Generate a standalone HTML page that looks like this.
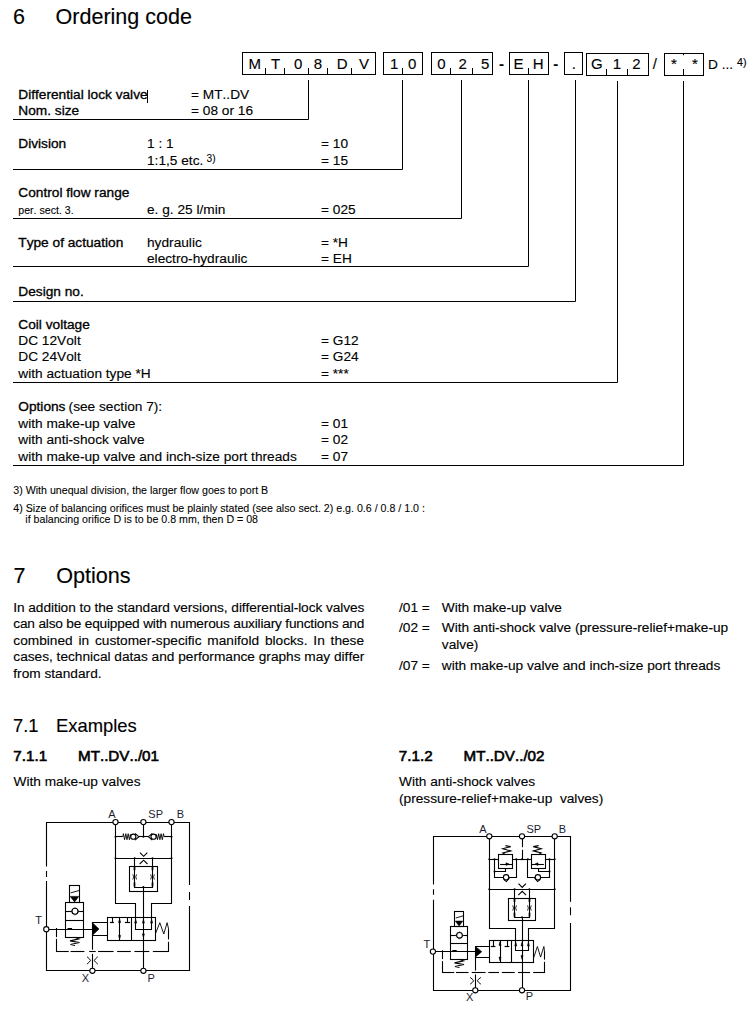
<!DOCTYPE html>
<html><head><meta charset="utf-8"><title>Ordering code</title>
<style>
html,body{margin:0;padding:0;background:#fff;}
body{width:756px;height:1016px;position:relative;overflow:hidden;font-family:"Liberation Sans",sans-serif;color:#000;}
.t{position:absolute;white-space:nowrap;font-kerning:none;-webkit-text-stroke:0.13px #000;}
svg{position:absolute;left:0;top:0;}
</style></head><body>
<div class="t" style="left:13.0px;top:5px;font-size:21.5px;line-height:24px;">6</div>
<div class="t" style="left:55.6px;top:5px;font-size:21.5px;line-height:24px;">Ordering code</div>
<div class="t" style="left:248.5px;top:55px;font-size:15px;line-height:17px;">M</div>
<div class="t" style="left:271.1px;top:55px;font-size:15px;line-height:17px;">T</div>
<div class="t" style="left:294.0px;top:55px;font-size:15px;line-height:17px;">0</div>
<div class="t" style="left:313.7px;top:55px;font-size:15px;line-height:17px;">8</div>
<div class="t" style="left:336.7px;top:55px;font-size:15px;line-height:17px;">D</div>
<div class="t" style="left:358.9px;top:55px;font-size:15px;line-height:17px;">V</div>
<div class="t" style="left:390.1px;top:55px;font-size:15px;line-height:17px;">1</div>
<div class="t" style="left:408.0px;top:55px;font-size:15px;line-height:17px;">0</div>
<div class="t" style="left:437.2px;top:55px;font-size:15px;line-height:17px;">0</div>
<div class="t" style="left:458.6px;top:55px;font-size:15px;line-height:17px;">2</div>
<div class="t" style="left:481.0px;top:55px;font-size:15px;line-height:17px;">5</div>
<div class="t" style="left:513.6px;top:55px;font-size:15px;line-height:17px;">E</div>
<div class="t" style="left:532.7px;top:55px;font-size:15px;line-height:17px;">H</div>
<div class="t" style="left:571.8px;top:55px;font-size:15px;line-height:17px;">.</div>
<div class="t" style="left:591.1px;top:55px;font-size:15px;line-height:17px;">G</div>
<div class="t" style="left:612.8px;top:55px;font-size:15px;line-height:17px;">1</div>
<div class="t" style="left:632.3px;top:55px;font-size:15px;line-height:17px;">2</div>
<div class="t" style="left:652.8px;top:55px;font-size:15px;line-height:17px;">/</div>
<div class="t" style="left:499.0px;top:55px;font-size:15px;line-height:17px;font-weight:bold">-</div>
<div class="t" style="left:553.3px;top:55px;font-size:15px;line-height:17px;font-weight:bold">-</div>
<div class="t" style="left:671.1px;top:55px;font-size:15px;line-height:17px;">*</div>
<div class="t" style="left:692.0px;top:55px;font-size:15px;line-height:17px;">*</div>
<div class="t" style="left:708.0px;top:57px;font-size:13.7px;line-height:15px;">D ...</div>
<div class="t" style="left:737.0px;top:56px;font-size:10.65px;line-height:12px;">4)</div>
<div class="t" style="left:18.3px;top:87px;font-size:13.7px;line-height:15px;-webkit-text-stroke-width:0.33px">Differential lock valve</div>
<div class="t" style="left:191.0px;top:87px;font-size:13.7px;line-height:15px;">= MT..DV</div>
<div class="t" style="left:18.3px;top:103px;font-size:13.7px;line-height:15px;-webkit-text-stroke-width:0.33px">Nom. size</div>
<div class="t" style="left:191.0px;top:103px;font-size:13.7px;line-height:15px;">= 08 or 16</div>
<div class="t" style="left:18.3px;top:136px;font-size:13.7px;line-height:15px;-webkit-text-stroke-width:0.33px">Division</div>
<div class="t" style="left:147.0px;top:136px;font-size:13.7px;line-height:15px;">1 : 1</div>
<div class="t" style="left:321.0px;top:136px;font-size:13.7px;line-height:15px;">= 10</div>
<div class="t" style="left:147.0px;top:153px;font-size:13.7px;line-height:15px;">1:1,5 etc.</div>
<div class="t" style="left:206.6px;top:153px;font-size:10.2px;line-height:11px;-webkit-text-stroke-width:0.08px">3)</div>
<div class="t" style="left:321.0px;top:153px;font-size:13.7px;line-height:15px;">= 15</div>
<div class="t" style="left:18.3px;top:185px;font-size:13.7px;line-height:15px;-webkit-text-stroke-width:0.33px">Control flow range</div>
<div class="t" style="left:18.3px;top:204px;font-size:10.6px;line-height:12px;-webkit-text-stroke-width:0.1px">per. sect. 3.</div>
<div class="t" style="left:147.0px;top:202px;font-size:13.7px;line-height:15px;">e. g. 25 l/min</div>
<div class="t" style="left:321.0px;top:202px;font-size:13.7px;line-height:15px;">= 025</div>
<div class="t" style="left:18.3px;top:235px;font-size:13.7px;line-height:15px;-webkit-text-stroke-width:0.33px">Type of actuation</div>
<div class="t" style="left:147.0px;top:235px;font-size:13.7px;line-height:15px;">hydraulic</div>
<div class="t" style="left:321.0px;top:235px;font-size:13.7px;line-height:15px;">= *H</div>
<div class="t" style="left:147.0px;top:251px;font-size:13.7px;line-height:15px;">electro-hydraulic</div>
<div class="t" style="left:321.0px;top:251px;font-size:13.7px;line-height:15px;">= EH</div>
<div class="t" style="left:18.3px;top:284px;font-size:13.7px;line-height:15px;-webkit-text-stroke-width:0.33px">Design no.</div>
<div class="t" style="left:18.3px;top:317px;font-size:13.7px;line-height:15px;-webkit-text-stroke-width:0.33px">Coil voltage</div>
<div class="t" style="left:18.3px;top:333px;font-size:13.7px;line-height:15px;">DC 12Volt</div>
<div class="t" style="left:321.0px;top:333px;font-size:13.7px;line-height:15px;">= G12</div>
<div class="t" style="left:18.3px;top:349px;font-size:13.7px;line-height:15px;">DC 24Volt</div>
<div class="t" style="left:321.0px;top:349px;font-size:13.7px;line-height:15px;">= G24</div>
<div class="t" style="left:18.3px;top:366px;font-size:13.7px;line-height:15px;">with actuation type *H</div>
<div class="t" style="left:321.0px;top:366px;font-size:13.7px;line-height:15px;">= ***</div>
<div class="t" style="left:18.3px;top:399px;font-size:13.7px;line-height:15px;-webkit-text-stroke-width:0.33px">Options</div>
<div class="t" style="left:68.6px;top:399px;font-size:13.7px;line-height:15px;">(see section 7):</div>
<div class="t" style="left:18.3px;top:416px;font-size:13.7px;line-height:15px;">with make-up valve</div>
<div class="t" style="left:321.0px;top:416px;font-size:13.7px;line-height:15px;">= 01</div>
<div class="t" style="left:18.3px;top:432px;font-size:13.7px;line-height:15px;">with anti-shock valve</div>
<div class="t" style="left:321.0px;top:432px;font-size:13.7px;line-height:15px;">= 02</div>
<div class="t" style="left:18.3px;top:449px;font-size:13.7px;line-height:15px;">with make-up valve and inch-size port threads</div>
<div class="t" style="left:321.0px;top:449px;font-size:13.7px;line-height:15px;">= 07</div>
<div class="t" style="left:13.3px;top:484px;font-size:10.65px;line-height:12px;-webkit-text-stroke-width:0.08px">3) With unequal division, the larger flow goes to port B</div>
<div class="t" style="left:13.3px;top:502px;font-size:10.65px;line-height:12px;-webkit-text-stroke-width:0.08px">4) Size of balancing orifices must be plainly stated (see also sect. 2) e.g. 0.6 / 0.8 / 1.0 :</div>
<div class="t" style="left:25.3px;top:513px;font-size:10.65px;line-height:12px;-webkit-text-stroke-width:0.08px">if balancing orifice D is to be 0.8 mm, then D = 08</div>
<div class="t" style="left:13.5px;top:563px;font-size:21.6px;line-height:25px;">7</div>
<div class="t" style="left:56.2px;top:563px;font-size:21.6px;line-height:25px;">Options</div>
<div class="t" style="left:13.0px;top:715px;font-size:18.4px;line-height:21px;">7.1</div>
<div class="t" style="left:56.0px;top:715px;font-size:18.4px;line-height:21px;">Examples</div>
<div class="t" style="left:13.3px;top:747px;font-size:15.2px;line-height:17px;-webkit-text-stroke-width:0.62px">7.1.1</div>
<div class="t" style="left:78.0px;top:747px;font-size:15.2px;line-height:17px;-webkit-text-stroke-width:0.62px">MT..DV../01</div>
<div class="t" style="left:13.5px;top:774px;font-size:13.7px;line-height:15px;">With make-up valves</div>
<div class="t" style="left:398.8px;top:747px;font-size:15.2px;line-height:17px;-webkit-text-stroke-width:0.62px">7.1.2</div>
<div class="t" style="left:463.5px;top:747px;font-size:15.2px;line-height:17px;-webkit-text-stroke-width:0.62px">MT..DV../02</div>
<div class="t" style="left:399.0px;top:774px;font-size:13.7px;line-height:15px;">With anti-shock valves</div>
<div class="t" style="left:399.0px;top:791px;font-size:13.7px;line-height:15px;">(pressure-relief+make-up&nbsp; valves)</div>
<div class="t" style="left:399.0px;top:600px;font-size:13.7px;line-height:15px;">/01 =</div>
<div class="t" style="left:441.8px;top:600px;font-size:13.7px;line-height:15px;">With make-up valve</div>
<div class="t" style="left:399.0px;top:620px;font-size:13.7px;line-height:15px;">/02 =</div>
<div class="t" style="left:441.8px;top:620px;font-size:13.7px;line-height:15px;">With anti-shock valve (pressure-relief+make-up</div>
<div class="t" style="left:441.8px;top:637px;font-size:13.7px;line-height:15px;">valve)</div>
<div class="t" style="left:399.0px;top:658px;font-size:13.7px;line-height:15px;">/07 =</div>
<div class="t" style="left:441.8px;top:658px;font-size:13.7px;line-height:15px;">with make-up valve and inch-size port threads</div>
<div class="t" style="left:13.3px;top:600px;font-size:13.7px;line-height:15px;letter-spacing:-0.069px">In addition to the standard versions, differential-lock valves</div>
<div class="t" style="left:13.3px;top:616px;font-size:13.7px;line-height:15px;letter-spacing:-0.195px">can also be equipped with numerous auxiliary functions and</div>
<div class="t" style="left:13.3px;top:633px;font-size:13.7px;line-height:15px;word-spacing:2.04px">combined in customer-specific manifold blocks. In these</div>
<div class="t" style="left:13.3px;top:649px;font-size:13.7px;line-height:15px;letter-spacing:-0.008px">cases, technical datas and performance graphs may differ</div>
<div class="t" style="left:13.3px;top:666px;font-size:13.7px;line-height:15px;">from standard.</div>
<svg width="756" height="1016" viewBox="0 0 756 1016" font-family="Liberation Sans, sans-serif">
<g fill="none" stroke="#000" stroke-width="1">
<rect x="242.5" y="52.5" width="133.0" height="22.0"/>
<path d="M265.5 68V74.5"/>
<path d="M284.5 68V74.5"/>
<path d="M308.5 68V74.5"/>
<path d="M327.5 68V74.5"/>
<path d="M351.5 68V74.5"/>
<rect x="383.5" y="52.5" width="39.0" height="22.0"/>
<path d="M402.5 68V74.5"/>
<rect x="431.5" y="52.5" width="61.0" height="22.0"/>
<path d="M450.5 68V74.5"/>
<path d="M472.5 68V74.5"/>
<rect x="509.5" y="52.5" width="39.0" height="22.0"/>
<path d="M528.5 68V74.5"/>
<rect x="564.5" y="52.5" width="18.0" height="22.0"/>
<rect x="586.5" y="53.5" width="62.0" height="22.0"/>
<path d="M606.5 69V75.5"/>
<path d="M627.5 69V75.5"/>
<rect x="664.5" y="53.5" width="39.0" height="22.0"/>
<path d="M683.5 69V75.5"/>
<path d="M308.5 80V119.5H13"/>
<path d="M402.5 80V169.5H13"/>
<path d="M461.5 80V218.5H13"/>
<path d="M528.5 80V266.5H13"/>
<path d="M575.5 80V301.5H13"/>
<path d="M617.5 81V382.5H13"/>
<path d="M683.5 81V465.5H13"/>
<path d="M683.5 53.5V55.2"/>
<path d="M147.5 90V103"/>
</g>
<g fill="none" stroke="#000" stroke-width="1.1" stroke-linejoin="miter">
<path d="M46.5 866.4 L46.5 822.5 L189.5 822.5 L189.5 885.0"/>
<path d="M46.5 871.0 L46.5 877.0"/>
<path d="M46.5 881.0 L46.5 970.5 L189.5 970.5 L189.5 906.0"/>
<path d="M189.5 892.0 L189.5 900.0"/>
<path d="M115.5 822.1 L115.5 903.5 L135.5 903.5 L135.5 929.5 L151.5 929.5 L151.5 903.5 L171.5 903.5 L171.5 822.1"/>
<path d="M143.5 822.1 L143.5 836.7"/>
<path d="M115.5 836.5 L122.8 836.5"/>
<path d="M122.8 836.7 L123.4 833.7 L124.6 839.7 L125.8 833.7 L127.0 839.7 L128.2 833.7 L129.4 839.7 L130.4 834.5 L130.8 836.7" stroke-width="0.9"/>
<circle cx="133.3" cy="836.7" r="2.6" fill="#fff"/>
<path d="M135.0 833.3 L138.9 836.7 L135.0 840.1"/>
<path d="M138.9 836.5 L148.4 836.5"/>
<path d="M152.3 833.3 L148.4 836.7 L152.3 840.1"/>
<circle cx="153.6" cy="836.7" r="2.6" fill="#fff"/>
<path d="M156.1 836.7 L156.5 834.5 L157.5 839.7 L158.7 833.7 L159.9 839.7 L161.1 833.7 L162.3 839.7 L163.5 833.7 L164.1 836.7" stroke-width="0.9"/>
<path d="M164.1 836.5 L171.5 836.5"/>
<path d="M115.5 858.5 L171.5 858.5"/>
<path d="M139.9 852.6 L143.6 856.3 L147.3 852.6" stroke-width="1.1"/>
<path d="M139.7 864.0 L143.6 860.2 L147.5 864.0" stroke-width="1.1"/>
<path d="M134.5 858.2 L134.5 887.5 L152.5 887.5 L152.5 858.2"/>
<rect x="129.5" y="866.5" width="28.0" height="25.0"/>
<path d="M132.8 874.3 Q134.5 876.9 132.8 879.5" stroke-width="0.8"/>
<path d="M136.6 874.3 Q134.9 876.9 136.6 879.5" stroke-width="0.8"/>
<path d="M134.5 866.9 L134.5 870.2" stroke-width="1.7"/>
<path d="M134.5 882.5 L134.5 886.5" stroke-width="1.7"/>
<path d="M150.6 874.3 Q152.3 876.9 150.6 879.5" stroke-width="0.8"/>
<path d="M154.4 874.3 Q152.7 876.9 154.4 879.5" stroke-width="0.8"/>
<path d="M152.5 866.9 L152.5 870.2" stroke-width="1.7"/>
<path d="M152.5 882.5 L152.5 886.5" stroke-width="1.7"/>
<circle cx="115.5" cy="836.7" r="1.0" fill="#000" stroke="none"/>
<circle cx="171.5" cy="836.7" r="1.0" fill="#000" stroke="none"/>
<circle cx="115.5" cy="858.2" r="1.0" fill="#000" stroke="none"/>
<circle cx="171.5" cy="858.2" r="1.0" fill="#000" stroke="none"/>
<circle cx="134.7" cy="858.2" r="1.0" fill="#000" stroke="none"/>
<circle cx="152.5" cy="858.2" r="1.0" fill="#000" stroke="none"/>
<circle cx="143.4" cy="836.7" r="1.0" fill="#000" stroke="none"/>
<circle cx="143.4" cy="887.0" r="1.0" fill="#000" stroke="none"/>
<path d="M143.5 887.0 L143.5 970.4"/>
<rect x="107.5" y="917.5" width="48.0" height="23.0"/>
<path d="M131.5 917.5 L131.5 940.5"/>
<path d="M112.5 917.5 L112.5 922.1"/>
<path d="M109.9 922.5 L113.9 922.5" stroke-width="1.2"/>
<path d="M127.5 917.5 L127.5 922.1"/>
<path d="M124.9 922.5 L130.2 922.5" stroke-width="1.2"/>
<path d="M119.5 917.5 L119.5 940.5"/>
<polygon points="118.6,922.6 120.6,922.6 119.6,919.0" fill="#000" stroke="#000" stroke-width="0.6"/>
<polygon points="118.6,935.4 120.6,935.4 119.6,939.0" fill="#000" stroke="#000" stroke-width="0.6"/>
<polygon points="134.7,923.1 136.7,923.1 135.7,919.5" fill="#000" stroke="#000" stroke-width="0.6"/>
<polygon points="142.4,923.1 144.4,923.1 143.4,919.5" fill="#000" stroke="#000" stroke-width="0.6"/>
<polygon points="150.6,923.1 152.6,923.1 151.6,919.5" fill="#000" stroke="#000" stroke-width="0.6"/>
<polygon points="142.4,933.9 144.4,933.9 143.4,937.5" fill="#000" stroke="#000" stroke-width="0.6"/>
<path d="M155.8 932.9 L159.8 922.7 L163.8 934.0 L167.1 922.7 L168.7 929.3" stroke-width="0.9"/>
<path d="M56.5 951.5 L68.7 951.5"/>
<path d="M70.6 951.5 L84.4 951.5"/>
<path d="M89.2 951.5 L95.7 951.5"/>
<path d="M98.1 951.5 L113.6 951.5"/>
<path d="M117.1 951.5 L130.8 951.5"/>
<path d="M134.4 951.5 L149.3 951.5"/>
<path d="M152.9 951.5 L169.0 951.5"/>
<path d="M168.5 951.5 L168.5 941.8"/>
<path d="M168.5 939.4 L168.5 929.3"/>
<path d="M56.5 928.0 L56.5 937.2"/>
<path d="M56.5 938.9 L56.5 952.0"/>
<polygon points="92.7,922.9 92.7,935.1 99.0,929.0" fill="#000" stroke="#000" stroke-width="0.6"/>
<path d="M107.5 922.5 L92.5 922.5 L92.5 935.5 L107.5 935.5"/>
<path d="M92.5 935.6 L92.5 949.7"/>
<path d="M92.5 953.9 L92.5 970.4"/>
<path d="M87.0 956.7 Q89.9 959.0 90.5 960.4 Q89.9 961.8 87.0 964.1" stroke-width="0.95"/>
<path d="M97.8 956.7 Q94.9 959.0 94.3 960.4 Q94.9 961.8 97.8 964.1" stroke-width="0.95"/>
<path d="M49.0 929.5 L92.5 929.5"/>
<rect x="69.5" y="885.5" width="10.0" height="17.0"/>
<path d="M70.6 892.9 L79.1 890.5" stroke-width="0.9"/>
<polygon points="70.2,896.4 78.8,896.4 74.6,901.9" fill="#000" stroke="#000" stroke-width="0.6"/>
<rect x="65.5" y="902.5" width="18.0" height="35.0"/>
<path d="M65.5 920.5 L83.5 920.5"/>
<path d="M65.5 911.5 L83.5 911.5"/>
<path d="M70.9 911.3 L75.0 907.2 L79.1 911.3 L75.0 915.4 Z" stroke-width="0.6" stroke="#555"/>
<circle cx="75.0" cy="911.3" r="3.0" fill="#fff"/>
<path d="M67.5 928.5 L72.1 928.5" stroke-width="1.0"/>
<path d="M74.5 937.3 L79.0 938.9 L70.0 940.9 L79.5 942.5 L70.5 944.5 L75.0 945.5"/>
<circle cx="115.5" cy="822.1" r="2.6" fill="#fff"/>
<circle cx="143.4" cy="822.1" r="2.6" fill="#fff"/>
<circle cx="171.5" cy="822.1" r="2.6" fill="#fff"/>
<circle cx="46.3" cy="929.2" r="2.6" fill="#fff"/>
<circle cx="92.4" cy="970.8" r="2.6" fill="#fff"/>
<circle cx="143.4" cy="970.8" r="2.6" fill="#fff"/>
</g>
<text x="108.2" y="817.6" font-size="11" fill="#1c1c30" stroke="none">A</text>
<text x="148.3" y="817.6" font-size="11" fill="#1c1c30" stroke="none">SP</text>
<text x="176.7" y="817.6" font-size="11" fill="#1c1c30" stroke="none">B</text>
<text x="35.3" y="923.8" font-size="11" fill="#1c1c30" stroke="none">T</text>
<text x="81.7" y="981.7" font-size="11" fill="#1c1c30" stroke="none">X</text>
<text x="147.6" y="982.0" font-size="11" fill="#1c1c30" stroke="none">P</text>
<g fill="none" stroke="#000" stroke-width="1.1" stroke-linejoin="miter">
<path d="M433.5 884.5 L433.5 836.5 L570.5 836.5 L570.5 901.7"/>
<path d="M433.5 889.3 L433.5 894.8"/>
<path d="M433.5 899.8 L433.5 990.5 L570.5 990.5 L570.5 923.1"/>
<path d="M570.5 907.3 L570.5 915.2"/>
<path d="M489.5 836.3 L489.5 928.5 L515.5 928.5 L515.5 950.5 L528.5 950.5 L528.5 928.5 L554.5 928.5 L554.5 836.3"/>
<path d="M522.5 837.6 L522.5 847.2"/>
<path d="M522.5 849.8 L522.5 859.3"/>
<path d="M489.3 859.5 L498.2 859.5"/>
<path d="M512.3 859.5 L522.0 859.5"/>
<rect x="498.5" y="854.5" width="14.0" height="14.0"/>
<path d="M505.4 854.6 L502.8 853.0 L510.7 850.9 L502.8 848.8 L510.7 846.6 L505.4 845.6"/>
<path d="M500.1 864.5 L512.3 864.5"/>
<polygon points="506.0,862.8 506.0,865.4 509.0,864.1" fill="#000" stroke="#000" stroke-width="0.6"/>
<path d="M494.5 859.3 L494.5 877.5 L503.3 877.5"/>
<path d="M509.1 877.5 L516.5 877.5 L516.5 859.3"/>
<path d="M494.5 871.5 L505.5 871.5 L505.5 868.3"/>
<circle cx="506.1" cy="877.3" r="2.7" fill="#fff"/>
<path d="M503.6 879.4 L506.4 881.6 L509.4 877.9"/>
<path d="M554.7 859.5 L545.8 859.5"/>
<path d="M531.7 859.5 L522.0 859.5"/>
<rect x="531.5" y="854.5" width="14.0" height="14.0"/>
<path d="M538.6 854.6 L541.2 853.0 L533.3 850.9 L541.2 848.8 L533.3 846.6 L538.6 845.6"/>
<path d="M543.9 864.5 L531.7 864.5"/>
<polygon points="538.0,862.8 538.0,865.4 535.0,864.1" fill="#000" stroke="#000" stroke-width="0.6"/>
<path d="M549.5 859.3 L549.5 877.5 L540.7 877.5"/>
<path d="M534.9 877.5 L527.5 877.5 L527.5 859.3"/>
<path d="M549.5 871.5 L538.5 871.5 L538.5 868.3"/>
<circle cx="537.9" cy="877.3" r="2.7" fill="#fff"/>
<path d="M540.4 879.4 L537.6 881.6 L534.6 877.9"/>
<path d="M489.3 889.5 L554.7 889.5"/>
<path d="M518.5 883.7 L522.2 887.4 L525.9 883.7" stroke-width="1.1"/>
<path d="M518.3 895.1 L522.2 891.3 L526.1 895.1" stroke-width="1.1"/>
<path d="M514.5 889.3 L514.5 917.5 L529.5 917.5 L529.5 889.3"/>
<rect x="508.5" y="898.5" width="27.0" height="22.0"/>
<path d="M512.7 905.4 Q514.4 908.0 512.7 910.6" stroke-width="0.8"/>
<path d="M516.5 905.4 Q514.8 908.0 516.5 910.6" stroke-width="0.8"/>
<path d="M514.5 898.8 L514.5 902.1" stroke-width="1.7"/>
<path d="M514.5 912.7 L514.5 916.7" stroke-width="1.7"/>
<path d="M527.5 905.4 Q529.2 908.0 527.5 910.6" stroke-width="0.8"/>
<path d="M531.3 905.4 Q529.6 908.0 531.3 910.6" stroke-width="0.8"/>
<path d="M529.5 898.8 L529.5 902.1" stroke-width="1.7"/>
<path d="M529.5 912.7 L529.5 916.7" stroke-width="1.7"/>
<circle cx="489.3" cy="859.3" r="1.0" fill="#000" stroke="none"/>
<circle cx="554.7" cy="859.3" r="1.0" fill="#000" stroke="none"/>
<circle cx="489.3" cy="889.3" r="1.0" fill="#000" stroke="none"/>
<circle cx="554.7" cy="889.3" r="1.0" fill="#000" stroke="none"/>
<circle cx="514.6" cy="889.3" r="1.0" fill="#000" stroke="none"/>
<circle cx="529.4" cy="889.3" r="1.0" fill="#000" stroke="none"/>
<circle cx="522.0" cy="859.3" r="1.0" fill="#000" stroke="none"/>
<circle cx="522.0" cy="917.2" r="1.0" fill="#000" stroke="none"/>
<circle cx="494.5" cy="859.3" r="1.0" fill="#000" stroke="none"/>
<circle cx="549.5" cy="859.3" r="1.0" fill="#000" stroke="none"/>
<circle cx="516.2" cy="859.3" r="1.0" fill="#000" stroke="none"/>
<circle cx="527.8" cy="859.3" r="1.0" fill="#000" stroke="none"/>
<circle cx="494.5" cy="871.5" r="1.0" fill="#000" stroke="none"/>
<circle cx="549.5" cy="871.5" r="1.0" fill="#000" stroke="none"/>
<path d="M522.5 917.2 L522.5 990.3"/>
<rect x="489.5" y="940.5" width="44.0" height="22.0"/>
<path d="M511.5 940.3 L511.5 962.2"/>
<path d="M493.5 940.3 L493.5 946.1"/>
<path d="M490.8 946.5 L495.4 946.5" stroke-width="1.2"/>
<path d="M507.5 940.3 L507.5 946.1"/>
<path d="M504.6 946.5 L509.4 946.5" stroke-width="1.2"/>
<path d="M500.5 940.3 L500.5 962.2"/>
<polygon points="499.0,945.4 501.0,945.4 500.0,941.8" fill="#000" stroke="#000" stroke-width="0.6"/>
<polygon points="499.0,957.1 501.0,957.1 500.0,960.7" fill="#000" stroke="#000" stroke-width="0.6"/>
<polygon points="514.8,945.9 516.8,945.9 515.8,942.3" fill="#000" stroke="#000" stroke-width="0.6"/>
<polygon points="521.0,945.9 523.0,945.9 522.0,942.3" fill="#000" stroke="#000" stroke-width="0.6"/>
<polygon points="527.4,945.9 529.4,945.9 528.4,942.3" fill="#000" stroke="#000" stroke-width="0.6"/>
<polygon points="521.0,955.6 523.0,955.6 522.0,959.2" fill="#000" stroke="#000" stroke-width="0.6"/>
<path d="M533.7 957.6 L537.4 946.5 L540.6 957.1 L543.9 946.5 L544.5 952.0" stroke-width="0.9"/>
<path d="M442.4 972.5 L454.2 972.5"/>
<path d="M456.0 972.5 L468.5 972.5"/>
<path d="M471.8 972.5 L485.6 972.5"/>
<path d="M488.3 972.5 L499.0 972.5"/>
<path d="M501.8 972.5 L514.7 972.5"/>
<path d="M518.0 972.5 L530.0 972.5"/>
<path d="M533.2 972.5 L545.0 972.5"/>
<path d="M544.5 972.5 L544.5 961.8"/>
<path d="M544.5 959.6 L544.5 951.6"/>
<path d="M442.5 950.3 L442.5 959.1"/>
<path d="M442.5 961.1 L442.5 973.0"/>
<polygon points="475.5,946.5 475.5,957.0 481.8,951.7" fill="#000" stroke="#000" stroke-width="0.6"/>
<path d="M489.4 946.5 L475.5 946.5 L475.5 957.5 L489.4 957.5"/>
<path d="M475.5 957.2 L475.5 970.6"/>
<path d="M475.5 974.4 L475.5 990.3"/>
<path d="M470.1 977.4 Q473.0 979.4 473.6 980.8 Q473.0 982.2 470.1 984.2" stroke-width="0.95"/>
<path d="M480.9 977.4 Q478.0 979.4 477.4 980.8 Q478.0 982.2 480.9 984.2" stroke-width="0.95"/>
<path d="M435.4 951.5 L475.3 951.5"/>
<rect x="454.5" y="911.5" width="9.0" height="15.0"/>
<path d="M455.7 918.0 L463.0 915.9" stroke-width="0.9"/>
<polygon points="455.3,921.1 462.7,921.1 459.1,925.9" fill="#000" stroke="#000" stroke-width="0.6"/>
<rect x="450.5" y="926.5" width="17.0" height="33.0"/>
<path d="M450.4 943.5 L467.6 943.5"/>
<path d="M450.4 935.5 L467.6 935.5"/>
<path d="M455.6 935.3 L459.5 931.4 L463.4 935.3 L459.5 939.2 Z" stroke-width="0.6" stroke="#555"/>
<circle cx="459.5" cy="935.3" r="2.8666666666666663" fill="#fff"/>
<path d="M452.3 950.5 L456.7 950.5" stroke-width="1.0"/>
<path d="M459.0 959.3 L463.5 960.9 L454.5 962.9 L464.0 964.5 L455.0 966.5 L459.5 967.5"/>
<circle cx="489.3" cy="836.3" r="2.6" fill="#fff"/>
<circle cx="522.0" cy="836.3" r="2.6" fill="#fff"/>
<circle cx="554.7" cy="836.3" r="2.6" fill="#fff"/>
<circle cx="432.9" cy="951.6" r="2.6" fill="#fff"/>
<circle cx="475.3" cy="990.3" r="2.6" fill="#fff"/>
<circle cx="522.0" cy="990.3" r="2.6" fill="#fff"/>
</g>
<text x="479.3" y="832.6" font-size="11" fill="#1c1c30" stroke="none">A</text>
<text x="526.5" y="832.6" font-size="11" fill="#1c1c30" stroke="none">SP</text>
<text x="558.8" y="832.6" font-size="11" fill="#1c1c30" stroke="none">B</text>
<text x="423.5" y="947.7" font-size="11" fill="#1c1c30" stroke="none">T</text>
<text x="466.0" y="1001.0" font-size="11" fill="#1c1c30" stroke="none">X</text>
<text x="525.7" y="1000.4" font-size="11" fill="#1c1c30" stroke="none">P</text>
</svg>
</body></html>
